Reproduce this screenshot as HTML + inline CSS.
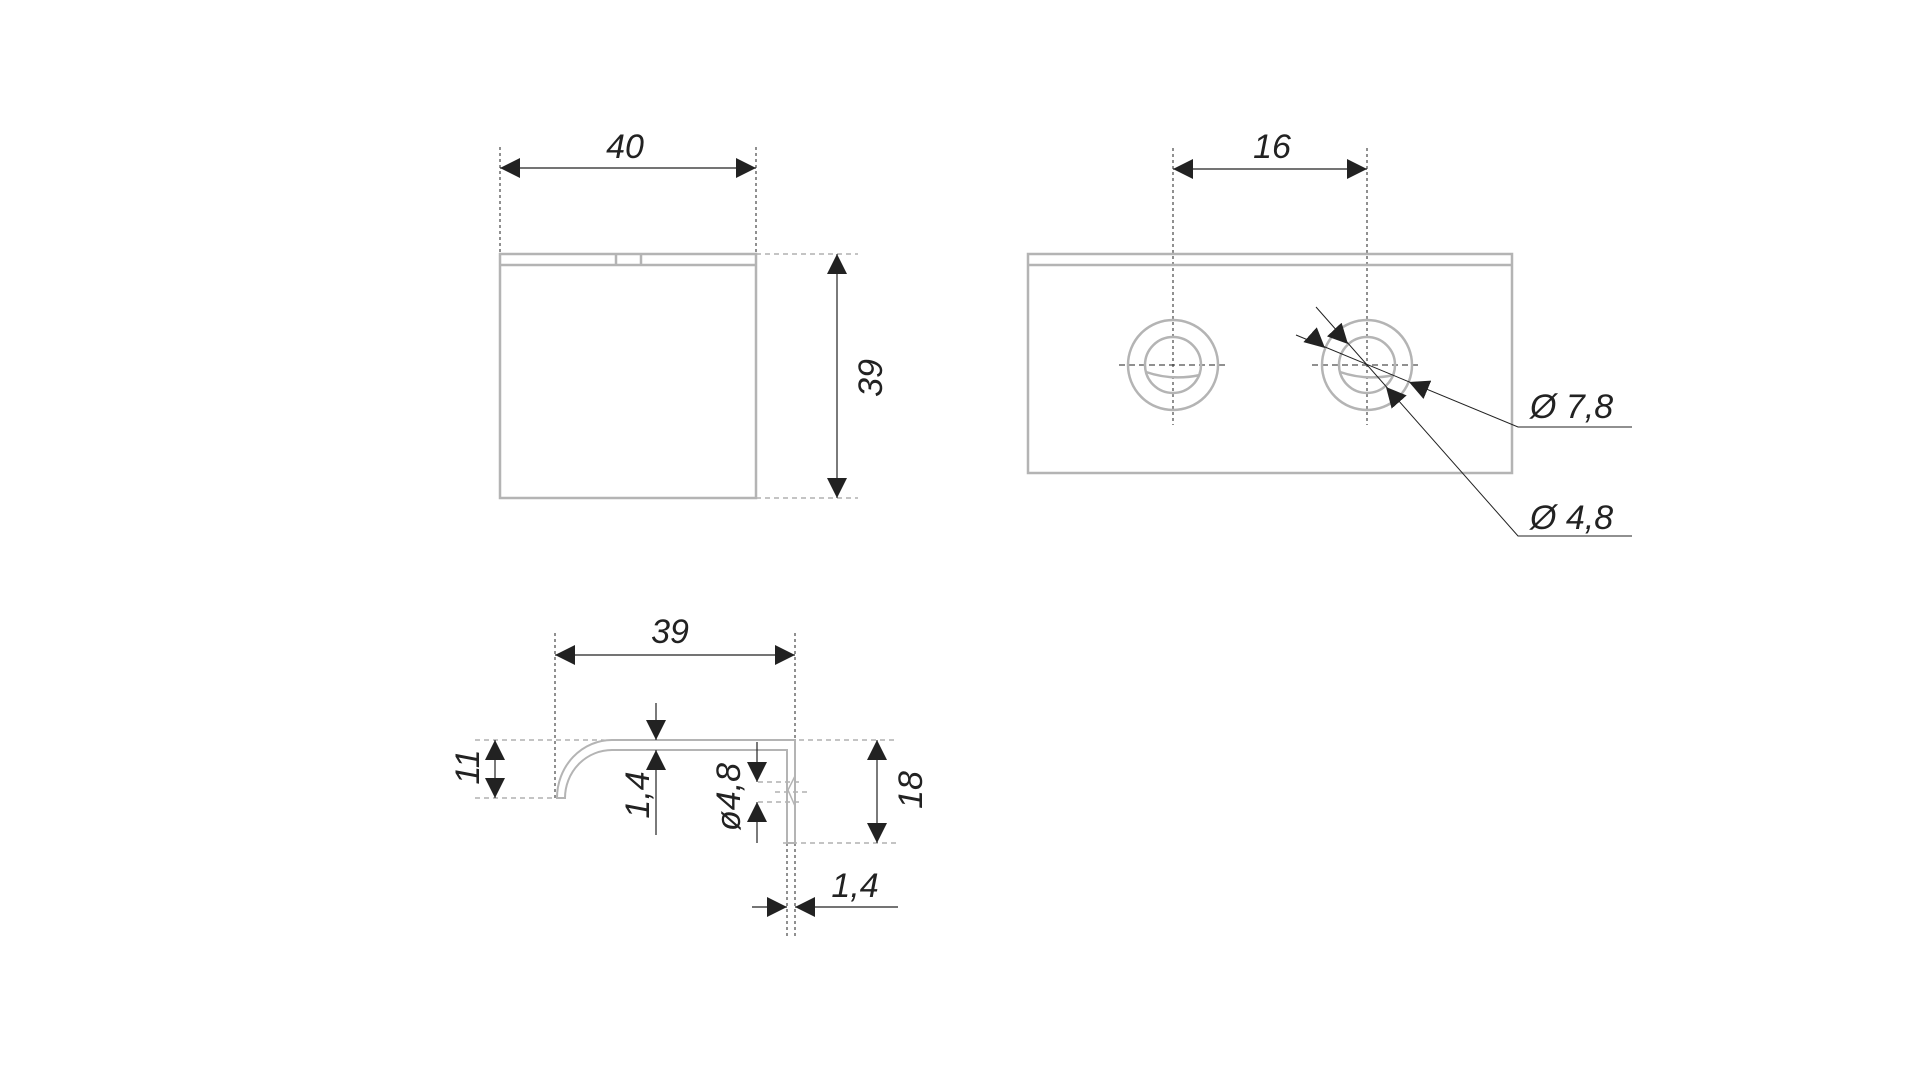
<!DOCTYPE html>
<html><head><meta charset="utf-8"><style>
html,body{margin:0;padding:0;background:#fff;}
svg{display:block}
text{font-family:"Liberation Sans",sans-serif;font-style:italic;fill:#222;}
</style></head><body>
<svg width="1923" height="1083" viewBox="0 0 1923 1083" xmlns="http://www.w3.org/2000/svg">
<defs>
<marker id="a" viewBox="0 0 20 20" refX="20" refY="10" markerWidth="20" markerHeight="20" markerUnits="userSpaceOnUse" orient="auto-start-reverse">
<path d="M0,0 L20,10 L0,20 Z" fill="#222"/></marker>
</defs>
<g fill="none" stroke="#222" stroke-width="1" stroke-dasharray="3,3">
<line x1="500" y1="147" x2="500" y2="254"/>
<line x1="756" y1="147" x2="756" y2="254"/>
<line x1="756" y1="254" x2="858" y2="254" stroke="#888" stroke-dasharray="5,4"/>
<line x1="756" y1="498" x2="858" y2="498" stroke="#888" stroke-dasharray="5,4"/>
<line x1="1173" y1="148" x2="1173" y2="425"/>
<line x1="1367" y1="148" x2="1367" y2="425"/>
<line x1="1119" y1="365" x2="1227" y2="365" stroke-dasharray="6,4"/>
<line x1="1312" y1="365" x2="1422" y2="365" stroke-dasharray="6,4"/>
<line x1="555" y1="633" x2="555" y2="798"/>
<line x1="795" y1="633" x2="795" y2="937"/>
<line x1="787" y1="843" x2="787" y2="937"/>
<line x1="475" y1="740" x2="898" y2="740" stroke="#888" stroke-dasharray="5,4"/>
<line x1="475" y1="798" x2="557" y2="798" stroke="#888" stroke-dasharray="5,4"/>
<line x1="783" y1="843" x2="898" y2="843" stroke="#888" stroke-dasharray="5,4"/>
<line x1="758" y1="782" x2="800" y2="782" stroke="#888" stroke-dasharray="5,4"/>
<line x1="758" y1="802" x2="800" y2="802" stroke="#888" stroke-dasharray="5,4"/>
<line x1="775" y1="792" x2="808" y2="792" stroke="#888" stroke-dasharray="5,4"/>
</g>
<g fill="none" stroke="#b4b4b4" stroke-width="2.5">
<rect x="500" y="254" width="256" height="244"/>
<line x1="500" y1="265" x2="756" y2="265"/>
<line x1="616" y1="254" x2="616" y2="265"/>
<line x1="641" y1="254" x2="641" y2="265"/>
<rect x="1028" y="254" width="484" height="219"/>
<line x1="1028" y1="265" x2="1512" y2="265"/>
<circle cx="1173" cy="365" r="45"/>
<circle cx="1173" cy="365" r="28"/>
<circle cx="1367" cy="365" r="45"/>
<circle cx="1367" cy="365" r="28"/>
<path d="M1146,372 Q1172,381 1200,375"/>
<path d="M1340,372 Q1366,381 1394,375"/>
<path d="M557,798 A55,58 0 0 1 612,740 L795,740 L795,843 L787,843 L787,750 L612,750 A47,48 0 0 0 565,798 Z" stroke-width="2"/>
<path d="M795,776 L788,790 L795,806" stroke-width="1.5"/>
</g>
<g fill="none" stroke="#222" stroke-width="1.2">
<line x1="500" y1="168" x2="756" y2="168" marker-start="url(#a)" marker-end="url(#a)"/>
<line x1="837" y1="254" x2="837" y2="498" marker-start="url(#a)" marker-end="url(#a)"/>
<line x1="1173" y1="169" x2="1367" y2="169" marker-start="url(#a)" marker-end="url(#a)"/>
<line x1="555" y1="655" x2="795" y2="655" marker-start="url(#a)" marker-end="url(#a)"/>
<line x1="495" y1="740" x2="495" y2="798" marker-start="url(#a)" marker-end="url(#a)"/>
<line x1="877" y1="740" x2="877" y2="843" marker-start="url(#a)" marker-end="url(#a)"/>
<line x1="656" y1="703" x2="656" y2="740" marker-end="url(#a)"/>
<line x1="656" y1="835" x2="656" y2="750" marker-end="url(#a)"/>
<line x1="757" y1="742" x2="757" y2="782" marker-end="url(#a)"/>
<line x1="757" y1="843" x2="757" y2="802" marker-end="url(#a)"/>
<line x1="752" y1="907" x2="787" y2="907" marker-end="url(#a)"/>
<line x1="898" y1="907" x2="795" y2="907" marker-end="url(#a)"/>
<polyline points="1316,307 1518,536 1632,536" stroke-width="1"/>
<polyline points="1296,335 1518,427 1632,427" stroke-width="1"/>
<line x1="1306" y1="331" x2="1325" y2="348" stroke-width="0" marker-end="url(#a)"/>
<line x1="1428" y1="390" x2="1409" y2="382" stroke-width="0" marker-end="url(#a)"/>
<line x1="1331" y1="326" x2="1348" y2="344" stroke-width="0" marker-end="url(#a)"/>
<line x1="1400" y1="403" x2="1386" y2="387" stroke-width="0" marker-end="url(#a)"/>
</g>
<g font-size="34">
<text x="625" y="158" text-anchor="middle">40</text>
<text x="1272" y="158" text-anchor="middle">16</text>
<text x="670" y="643" text-anchor="middle">39</text>
<text x="1530" y="418">Ø 7,8</text>
<text x="1530" y="529">Ø 4,8</text>
<text x="855" y="897" text-anchor="middle">1,4</text>
<text transform="translate(882,378) rotate(-90)" text-anchor="middle">39</text>
<text transform="translate(479,767) rotate(-90)" text-anchor="middle">11</text>
<text transform="translate(649,795) rotate(-90)" text-anchor="middle">1,4</text>
<text transform="translate(740,797) rotate(-90)" text-anchor="middle">ø4,8</text>
<text transform="translate(922,790) rotate(-90)" text-anchor="middle">18</text>
</g>
</svg>
</body></html>
